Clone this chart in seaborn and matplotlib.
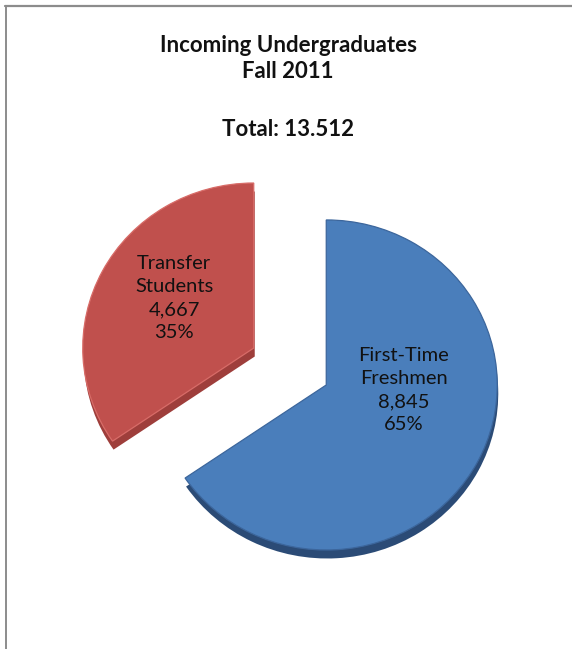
import matplotlib
matplotlib.use("Agg")
import matplotlib.pyplot as plt
from matplotlib.lines import Line2D
import seaborn as sns

# Data
categories = ["Transfer\nStudents", "First-Time\nFreshmen"]
counts = [4667, 8845]
total_label = "13.512"
title_lines = ["Incoming Undergraduates", "Fall 2011"]

face_colors = ["#C0504D", "#4A7EBB"]
side_colors = ["#9E3E3B", "#2B4B76"]
rim_colors = ["#D86C68", "#3C669C"]

sns.set_theme(style="white")
plt.rcParams["font.family"] = ["Lato", "DejaVu Sans"]

W, H = 572, 649
fig = plt.figure(figsize=(W / 100, H / 100), dpi=100)
fig.patch.set_facecolor("white")

# pie axes: slightly squashed vertically for a tilted look
k = 0.965
pax = fig.add_axes([0, 0, 1, 1])
center = (290, (H - 366.5) / k)
radius = 171
explode = [41, 41]  # offsets in data units

# darker copy underneath gives the slices some depth
pax.pie(counts, colors=side_colors, startangle=90, counterclock=True,
        explode=explode, radius=radius, center=(center[0] + 1, center[1] - 8.5 / k),
        frame=True, wedgeprops=dict(linewidth=0))
wedges, _ = pax.pie(counts, colors=face_colors, startangle=90, counterclock=True,
                    explode=explode, radius=radius, center=center,
                    frame=True, wedgeprops=dict(linewidth=0.9))
for w, rc in zip(wedges, rim_colors):
    w.set_edgecolor(rc)
pax.set_xlim(0, W)
pax.set_ylim(0, H / k)
pax.set_aspect("auto")
pax.axis("off")

# text axes in pixel units
ax = fig.add_axes([0, 0, 1, 1])
ax.set_xlim(0, W)
ax.set_ylim(0, H)
ax.axis("off")

total = sum(counts)
label_pos = [(174, H - 298), (404, H - 390)]
for name, n, (lx, ly) in zip(categories, counts, label_pos):
    ax.text(lx, ly, f"{name}\n{n:,}\n{100 * n / total:.0f}%",
            ha="center", va="center", fontsize=14.5, color="#111111",
            linespacing=1.45)

ax.text(288, H - 46, title_lines[0], ha="center", va="center",
        fontsize=16, fontweight="bold", color="#111111")
ax.text(288, H - 72, title_lines[1], ha="center", va="center",
        fontsize=16, fontweight="bold", color="#111111")
ax.text(288, H - 130, f"Total: {total_label}", ha="center", va="center",
        fontsize=16, fontweight="bold", color="#111111")

# frame lines along the top and left
fig.add_artist(Line2D([5 / W, 1], [1 - 6 / H, 1 - 6 / H], color="#8C8C8C", lw=1.6))
fig.add_artist(Line2D([5.5 / W, 5.5 / W], [0, 1 - 6 / H], color="#8C8C8C", lw=1.4))

fig.savefig("out.png", dpi=100, facecolor="white")
